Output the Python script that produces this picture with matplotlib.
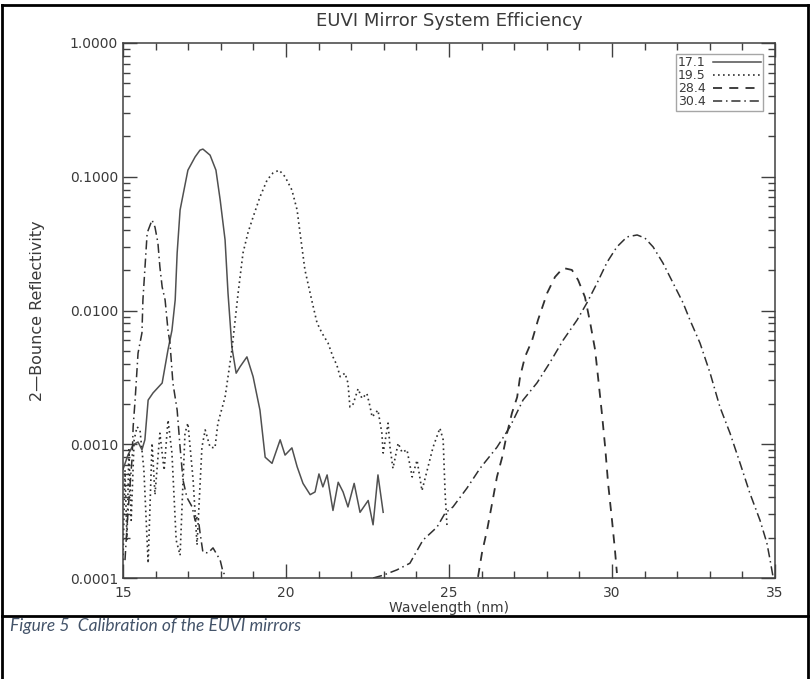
import matplotlib.pyplot as plt
from matplotlib.lines import Line2D
import numpy as np

# wavelength (nm) and 2-bounce reflectivity
wl_171 = [15.0, 15.15, 15.31, 15.46, 15.58, 15.67, 15.77, 15.92, 16.20, 16.38, 16.50, 16.60,
          16.66, 16.75, 16.87, 16.99, 17.21, 17.36, 17.45, 17.67, 17.85, 17.98, 18.13, 18.22,
          18.34, 18.47, 18.59, 18.80, 18.99, 19.20, 19.36, 19.57, 19.82, 19.97, 20.18, 20.34,
          20.52, 20.74, 20.89, 21.01, 21.13, 21.26, 21.44, 21.60, 21.75, 21.90, 22.09, 22.27,
          22.52, 22.67, 22.82, 22.98]
r_171 = [0.00065, 0.00083, 0.00099, 0.00104, 0.00091, 0.00108, 0.00214, 0.00242, 0.00287, 0.0051,
         0.0071, 0.012, 0.0269, 0.0564, 0.0796, 0.112, 0.1406, 0.158, 0.161, 0.145, 0.112, 0.067,
         0.0337, 0.0135, 0.0053, 0.0034, 0.0038, 0.0045, 0.0032, 0.0018, 0.0008, 0.00072, 0.00108,
         0.00083, 0.00094, 0.00068, 0.00051, 0.00042, 0.00044, 0.0006, 0.00048, 0.00059, 0.00032,
         0.00052, 0.00044, 0.00034, 0.00051, 0.00031, 0.00038, 0.00025, 0.00059, 0.00031]

wl_195 = [15.0, 15.06, 15.12, 15.18, 15.25, 15.34, 15.43, 15.52, 15.64, 15.77, 15.89, 15.98,
          16.13, 16.26, 16.38, 16.50, 16.63, 16.75, 16.90, 16.99, 17.15, 17.27, 17.42, 17.52,
          17.67, 17.82, 17.91, 18.13, 18.34, 18.53, 18.68, 18.83, 18.99, 19.20, 19.42, 19.60,
          19.79, 19.97, 20.18, 20.34, 20.43, 20.58, 20.80, 20.95, 21.10, 21.29, 21.44, 21.56,
          21.66, 21.81, 21.90, 21.96, 22.06, 22.21, 22.33, 22.48, 22.58, 22.64, 22.82, 22.94,
          22.98, 23.13, 23.19, 23.28, 23.44, 23.56, 23.71, 23.87, 24.02, 24.17, 24.33, 24.51,
          24.72, 24.82, 24.88, 24.94]
r_195 = [0.000136, 0.00064, 0.000192, 0.00091, 0.00027, 0.00108, 0.00135, 0.00128, 0.00064,
         0.000129, 0.00102, 0.00042, 0.00121, 0.00064, 0.00152, 0.00086, 0.000192, 0.000148,
         0.00121, 0.00144, 0.00054, 0.000177, 0.00095, 0.00128, 0.00095, 0.00094, 0.00144,
         0.00225, 0.0051, 0.0135, 0.0269, 0.038, 0.050, 0.0706, 0.0946, 0.1067, 0.112, 0.100,
         0.0796, 0.0564, 0.038, 0.0201, 0.0116, 0.0081, 0.0068, 0.0057, 0.0045, 0.0039, 0.0032,
         0.0034, 0.00287, 0.0019, 0.0020, 0.0026, 0.0022, 0.0024, 0.0019, 0.0016, 0.0018,
         0.00121, 0.00086, 0.00144, 0.00095, 0.00066, 0.00102, 0.00087, 0.00091, 0.00057,
         0.00076, 0.00045, 0.00064, 0.00095, 0.00132, 0.00108, 0.00043, 0.00024]

wl_284 = [25.89, 26.01, 26.17, 26.32, 26.47, 26.63, 26.78, 26.93, 27.09, 27.18, 27.33, 27.55,
          27.73, 28.01, 28.25, 28.50, 28.77, 28.96, 29.17, 29.33, 29.48, 29.57, 29.69, 29.79,
          29.88, 30.0, 30.09, 30.15]
r_284 = [0.000102, 0.000154, 0.00023, 0.00036, 0.00057, 0.0008, 0.00121, 0.00171, 0.00225,
         0.0032, 0.0045, 0.006, 0.0085, 0.0135, 0.0178, 0.0208, 0.0201, 0.0169, 0.0126, 0.0081,
         0.0051, 0.0032, 0.0017, 0.00095, 0.00051, 0.00027, 0.000162, 0.000109]

wl_304 = [15.06, 15.12, 15.21, 15.28, 15.31, 15.37, 15.46, 15.58, 15.61, 15.74, 15.89, 15.98,
          16.07, 16.13, 16.20, 16.29, 16.38, 16.44, 16.53, 16.66, 16.75, 16.84, 16.96, 17.12,
          17.21, 17.30, 17.36, 17.45, 17.61, 17.76, 17.98, 18.07, 18.19,
          22.67, 22.98, 23.40, 23.80, 24.20, 24.63, 24.88, 25.12, 25.55, 25.95, 26.47, 26.87,
          27.27, 27.70, 28.10, 28.50, 28.93, 29.23, 29.54, 29.85, 30.15, 30.46, 30.77, 31.01,
          31.26, 31.56, 31.87, 32.18, 32.39, 32.70, 33.01, 33.31, 33.62, 33.93, 34.23, 34.54,
          34.75, 34.85, 34.94]
r_304 = [0.000136, 0.00024, 0.00048, 0.0008, 0.00135, 0.00214, 0.0048, 0.0068, 0.012, 0.038,
         0.0475, 0.042, 0.032, 0.0212, 0.015, 0.012, 0.0071, 0.0057, 0.00287, 0.0018, 0.00095,
         0.00054, 0.0004, 0.00034, 0.00027, 0.00029, 0.00022, 0.000156, 0.000154, 0.000168,
         0.000136, 0.00011, 0.000102,
         0.0001, 0.000105, 0.000115, 0.000129, 0.000192, 0.00024, 0.000306, 0.00034, 0.00047,
         0.00066, 0.00095, 0.00135, 0.00214, 0.00288, 0.0041, 0.006, 0.0085, 0.0114, 0.016,
         0.023, 0.0299, 0.0355, 0.0367, 0.0348, 0.0299, 0.0227, 0.0161, 0.0114, 0.0085, 0.0057,
         0.0034, 0.0019, 0.00121, 0.00072, 0.00043, 0.00027, 0.000183, 0.000136, 0.000102]

# gap between the two parts of the 30.4 curve
wl_304 = np.insert(np.array(wl_304), 33, 20.0)
r_304 = np.insert(np.array(r_304), 33, np.nan)

yticks = [1e-4, 1e-3, 1e-2, 1e-1, 1.0]
ytick_labels = ['0.0001', '0.0010', '0.0100', '0.1000', '1.0000']

ink = '#505050'
txt = '#3a3a3a'

fig = plt.figure(figsize=(8.10, 6.79), dpi=100)
ax = fig.add_axes([0.1519, 0.1487, 0.8049, 0.7880])

ax.plot(wl_171, r_171, color=ink, lw=1.1, ls='-', label='17.1')
ax.plot(wl_195, r_195, color='#303030', lw=1.2, ls=(0, (1, 2)), label='19.5')
ax.plot(wl_284, r_284, color='#303030', lw=1.3, ls=(0, (5, 4)), label='28.4')
ax.plot(wl_304, r_304, color='#303030', lw=1.1, ls=(0, (6, 2.5, 1, 2.5)), label='30.4')

ax.set_yscale('log')
ax.set_xlim(15, 35)
ax.set_ylim(1e-4, 1.0)
ax.set_yticks(yticks)
ax.set_yticklabels(ytick_labels)
ax.set_xticks([15, 20, 25, 30, 35])
ax.set_xticks(np.arange(15, 36, 1), minor=True)

ax.tick_params(which='both', direction='in', top=True, right=True, colors='#404040',
               labelcolor=txt, labelsize=10)
ax.tick_params(which='major', length=10, width=1)
ax.tick_params(which='minor', length=5, width=1)
ax.tick_params(axis='x', pad=5.5)
for s in ax.spines.values():
    s.set_color('#404040')
    s.set_linewidth(1.1)

ax.set_title('EUVI Mirror System Efficiency', fontsize=13, color=txt, pad=12)
ax.set_xlabel('Wavelength (nm)', fontsize=10, color=txt, labelpad=1)
ax.set_ylabel('2\u2014Bounce Reflectivity', fontsize=11.5, color=txt, labelpad=18)

leg = ax.legend(loc='upper right', bbox_to_anchor=(0.982, 0.98), fontsize=9,
                markerfirst=False, frameon=True, fancybox=False, handlelength=3.8,
                labelspacing=0.0, borderpad=0.2, handletextpad=0.6, borderaxespad=0)
leg.get_frame().set_edgecolor('#909090')
leg.get_frame().set_linewidth(1.0)
for t in leg.get_texts():
    t.set_color(txt)

# page frame and caption
fig.add_artist(Line2D([0.003, 0.003], [0, 0.992], color='black', lw=2))
fig.add_artist(Line2D([0.003, 0.997], [0.992, 0.992], color='black', lw=2))
fig.add_artist(Line2D([0.997, 0.997], [0.992, 0.0], color='black', lw=2))
fig.add_artist(Line2D([0.003, 0.997], [0.0935, 0.0935], color='black', lw=2))
fig.text(0.012, 0.078, 'Figure 5  Calibration of the EUVI mirrors', fontsize=12.5,
         style='italic', color='#44546A', family=['Lato', 'DejaVu Sans'], va='center')

fig.savefig('out.png', dpi=100)
